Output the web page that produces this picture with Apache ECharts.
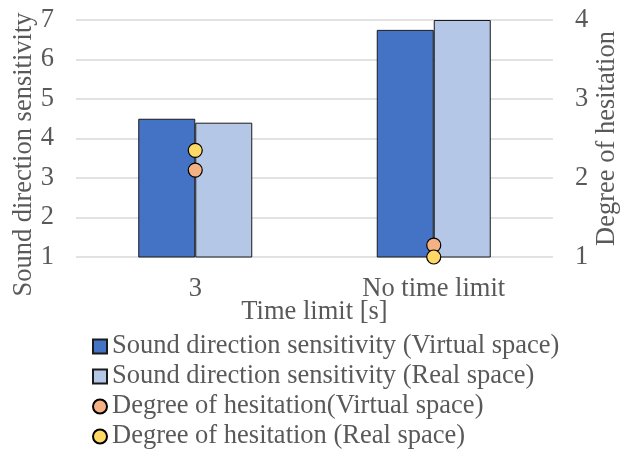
<!DOCTYPE html>
<html><head><meta charset="utf-8">
<script src="https://cdn.jsdelivr.net/npm/echarts@6/dist/echarts.min.js"></script>
<style>html,body{margin:0;padding:0;background:#fff}#c{width:632px;height:450px}</style>
</head><body><div id="c"></div>
<script>
const categories = ['3', 'No time limit'];
const sensVirtual = [4.5, 6.75];
const sensReal = [4.4, 7.0];
const hesVirtual = [2.1, 1.15];
const hesReal = [2.35, 1.0];
const leftTicks = [1, 7, 1];
const rightTicks = [1, 4, 1];

const font = 'Liberation Serif, Times New Roman, serif';
const txt = '#595959';
const fs = 26.5;
const chart = echarts.init(document.getElementById('c'));
chart.setOption({
  animation: false,
  textStyle: {fontFamily: font},
  grid: {left: 76, right: 79, top: 20, bottom: 193, outerBoundsMode: 'none', containLabel: false},
  legend: {
    orient: 'vertical', left: 92, top: 333, padding: 0, height: 125, itemGap: 3, itemWidth: 14, itemHeight: 14,
    textStyle: {fontFamily: font, fontSize: fs, color: txt, padding: [0,0,0,0]},
    data: [
      {name: 'Sound direction sensitivity (Virtual space)', icon: 'rect'},
      {name: 'Sound direction sensitivity (Real space)', icon: 'rect'},
      {name: 'Degree of hesitation(Virtual space)', icon: 'circle'},
      {name: 'Degree of hesitation (Real space)', icon: 'circle'}
    ]
  },
  xAxis: {
    type: 'category', data: categories,
    name: 'Time limit [s]', nameLocation: 'middle', nameGap: 42, nameMoveOverlap: false,
    nameTextStyle: {fontFamily: font, fontSize: fs, color: txt},
    axisLine: {show: false}, axisTick: {show: false},
    axisLabel: {fontFamily: font, fontSize: fs, color: txt, margin: 19}
  },
  yAxis: [
    {type: 'value', min: leftTicks[0], max: leftTicks[1], interval: leftTicks[2],
     name: 'Sound direction sensitivity', nameLocation: 'middle', nameGap: 38, nameMoveOverlap: false,
     nameTextStyle: {fontFamily: font, fontSize: fs, color: txt, padding: [0, 32, 0, 0]},
     axisLabel: {fontFamily: font, fontSize: fs, color: txt, margin: 22},
     splitLine: {lineStyle: {color: '#d9d9d9', width: 1.5}}},
    {type: 'value', min: rightTicks[0], max: rightTicks[1], interval: rightTicks[2],
     name: 'Degree of hesitation', nameLocation: 'middle', nameGap: 41, nameMoveOverlap: false,
     nameTextStyle: {fontFamily: font, fontSize: fs, color: txt},
     axisLabel: {fontFamily: font, fontSize: fs, color: txt, margin: 22},
     splitLine: {show: false}}
  ],
  series: [
    {name: 'Sound direction sensitivity (Virtual space)', type: 'bar', data: sensVirtual,
     barWidth: 57, barGap: '0%', itemStyle: {color: '#4472C4', borderColor: '#1a1a1a', borderWidth: 1}},
    {name: 'Sound direction sensitivity (Real space)', type: 'bar', data: sensReal,
     barWidth: 57, barGap: '0%', itemStyle: {color: '#B4C7E7', borderColor: '#1a1a1a', borderWidth: 1}},
    {name: 'Degree of hesitation(Virtual space)', type: 'scatter', yAxisIndex: 1, data: hesVirtual,
     symbolSize: 14, z: 5, itemStyle: {color: '#F4B183', borderColor: '#000', borderWidth: 1.2, opacity: 1}},
    {name: 'Degree of hesitation (Real space)', type: 'scatter', yAxisIndex: 1, data: hesReal,
     symbolSize: 14, z: 5, itemStyle: {color: '#FFD966', borderColor: '#000', borderWidth: 1.2, opacity: 1}}
  ]
});
</script></body></html>
